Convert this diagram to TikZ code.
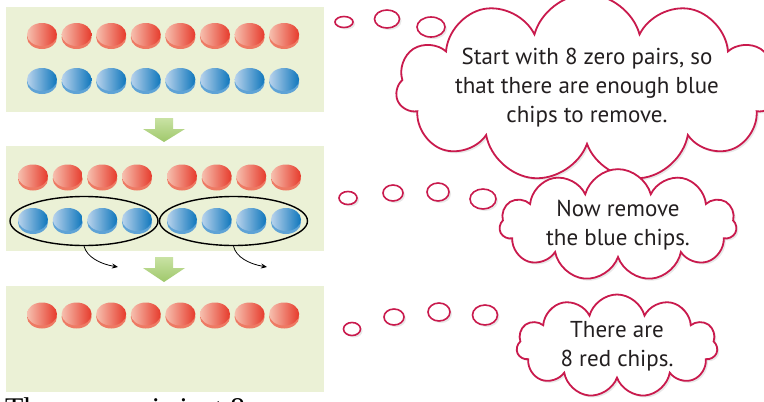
\documentclass[tikz,border=0pt]{standalone}
\usepackage{fontspec}
\setmainfont{Liberation Serif}
\newfontfamily\bubblefont{PT Sans}
\usetikzlibrary{shapes.symbols,shapes.geometric,shadows,arrows.meta}
\definecolor{panelgreen}{HTML}{EBF1D6}
\definecolor{arrowtop}{HTML}{C9E2A4}
\definecolor{arrowbot}{HTML}{9FC86B}
\definecolor{redL}{HTML}{F6C0AF}
\definecolor{redR}{HTML}{E63A2B}
\definecolor{redrim}{HTML}{EE7A64}
\definecolor{blueL}{HTML}{B9D3EC}
\definecolor{blueR}{HTML}{0E76BC}
\definecolor{bluerim}{HTML}{5FA3D6}
\definecolor{crimson}{HTML}{C91A4D}
\definecolor{inktext}{HTML}{231F20}
\tikzset{
  panelbox/.style={fill=panelgreen, draw=none, inner sep=0pt},
  redchip/.pic={
    \fill[redrim] (0,3) ellipse (15 and 11.5);
    \shade[left color=redL, right color=redR] (0,0) ellipse (15 and 11.5);
  },
  bluechip/.pic={
    \fill[bluerim] (0,3) ellipse (15 and 11.5);
    \shade[left color=blueL, right color=blueR] (0,0) ellipse (15 and 11.5);
  },
  groupring/.style={ellipse, draw=black, line width=1.4pt, inner sep=0pt, minimum width=148pt, minimum height=49pt},
  movearrow/.style={-{Stealth[length=6pt,width=5pt]}, line width=0.8pt, black},
  thought/.style={cloud, cloud puffs=11, cloud ignores aspect, draw=crimson, line width=1.8pt, fill=white,
     inner sep=0pt, align=center, text=inktext, font=\bubblefont\fontsize{23}{29}\selectfont,
     drop shadow={opacity=0.18, shadow xshift=2pt, shadow yshift=-2pt}},
  bubble/.style={ellipse, draw=crimson, line width=1.6pt, fill=white, inner sep=0pt,
     drop shadow={opacity=0.18, shadow xshift=2pt, shadow yshift=-2pt}},
}
\begin{document}
\begin{tikzpicture}[x=1pt,y=-1pt]
\clip (0,0) rectangle (764,402);
\fill[white] (0,0) rectangle (764,402);
% panels
\node[panelbox, minimum width=318pt, minimum height=105pt] (p1) at (165,59.5) {};
\node[panelbox, minimum width=318pt, minimum height=105pt] (p2) at (165,198.5) {};
\node[panelbox, minimum width=318pt, minimum height=106pt] (p3) at (165,339) {};
% green arrows
\shade[top color=arrowtop, bottom color=arrowbot]
  (155,118) -- (173,118) -- (173,129) -- (185,129) -- (164,142) -- (143,129) -- (155,129) -- cycle;
\shade[top color=arrowtop, bottom color=arrowbot]
  (155,257) -- (173,257) -- (173,268) -- (185,268) -- (164,282) -- (143,268) -- (155,268) -- cycle;
% panel 1 chips
\foreach \i in {0,...,7} {
  \pic at ({42+34.6*\i},34.5) {redchip};
  \pic at ({42+34.6*\i},79.5) {bluechip};
}
% panel 2 chips
\foreach \xx in {33,67.7,102.3,137,182,216.7,251.3,286} {
  \pic at (\xx,176) {redchip};
  \pic at (\xx,219.5) {bluechip};
}
% group rings
\node[groupring] (g1) at (84,221) {};
\node[groupring] (g2) at (233.5,221) {};
\coordinate (t1) at (118,267);
\coordinate (t2) at (267,267);
\draw[movearrow] (g1.south) .. controls (87,257) and (100,264) .. (t1);
\draw[movearrow] (g2.south) .. controls (236,257) and (249,264) .. (t2);
% panel 3 chips
\foreach \i in {0,...,7} {
  \pic at ({42+34.6*\i},314) {redchip};
}
% clouds
\node[thought, minimum width=347pt, minimum height=149pt] (c1) at (587,88)
  {Start with 8 zero pairs, so\\that there are enough blue\\chips to remove.};
\node[bubble, minimum width=18pt, minimum height=11pt] (b11) at (344,22) {};
\node[bubble, minimum width=25pt, minimum height=18pt] (b12) at (387,19) {};
\node[bubble, minimum width=28pt, minimum height=20pt] (b13) at (431,27) {};

\node[thought, minimum width=237pt, minimum height=96pt] (c2) at (618,225)
  {Now remove\\the blue chips.};
\node[bubble, minimum width=18pt, minimum height=13pt] (b21) at (348,198) {};
\node[bubble, minimum width=20pt, minimum height=16pt] (b22) at (393,193) {};
\node[bubble, minimum width=22pt, minimum height=18pt] (b23) at (438,192) {};
\node[bubble, minimum width=26pt, minimum height=20pt] (b24) at (483,199) {};

\node[thought, minimum width=201pt, minimum height=103pt] (c3) at (617,346)
  {There are\\8 red chips.};
\node[bubble, minimum width=17pt, minimum height=13pt] (b31) at (352,329) {};
\node[bubble, minimum width=20pt, minimum height=16pt] (b32) at (394,317) {};
\node[bubble, minimum width=22pt, minimum height=18pt] (b33) at (439,312) {};
\node[bubble, minimum width=25pt, minimum height=20pt] (b34) at (485,315) {};
% cut-off caption (only the tops of the letters show)
\node[anchor=base west, inner sep=0pt, font=\fontsize{30}{34}\selectfont, text=black] (cap) at (5,418.5)
  {The answer is just 8};
\end{tikzpicture}
\end{document}
